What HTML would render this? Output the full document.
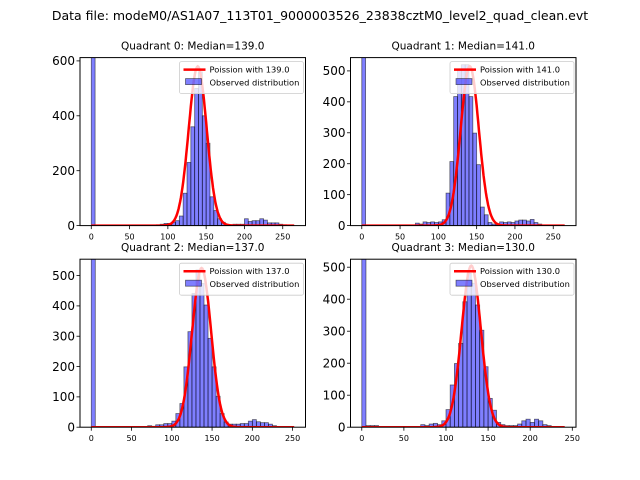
<!DOCTYPE html>
<html><head><meta charset="utf-8"><style>
body{margin:0;background:#fff;}
svg{display:block;font-family:"DejaVu Sans","Liberation Sans",sans-serif;}
</style></head><body>
<svg id="fig" width="640" height="480" viewBox="0 0 640 480" xmlns="http://www.w3.org/2000/svg">
<rect width="640" height="480" fill="#fff"/>
<text x="320" y="20" font-size="12.5" text-anchor="middle">Data file: modeM0/AS1A07_113T01_9000003526_23838cztM0_level2_quad_clean.evt</text>
</svg>
<script>
// bin width 5, first bin starts at 0
const binStarts = Array.from({length:53},(_, i)=>i*5);
const medians = [139.0, 141.0, 137.0, 130.0];
const peakHeights = [580, 515, 525, 505];
const counts0 = [700,0,0,0,0,0,0,0,0,0, 2,2,0,2,0,0,0,3,5,8, 8,12,18,35,118,230,360,500,560,400, 300,105,55,25,12,5,3,5,5,5, 25,15,18,18,25,20,10,10,10,5,3,0,0];
const counts1 = [700,0,0,0,0,0,0,0,0,0, 0,0,0,0,8,5,12,10,12,10, 12,19,105,207,417,503,520,520,417,299, 197,60,35,10,5,3,12,10,12,10, 15,18,18,15,20,10,5,0,0,0,0,0,0];
const counts2 = [700,0,0,0,0,0,0,0,0,0, 0,0,0,0,5,3,8,8,12,12, 20,45,78,199,315,441,519,474,403,293, 199,102,45,17,10,10,10,12,12,20, 25,18,15,15,10,5,0,0,0,0,0,0,0];
const counts3 = [700,5,5,5,0,0,0,0,0,0, 0,0,0,0,8,5,10,12,8,20, 55,132,199,262,392,481,450,382,303,189, 90,53,15,8,5,5,5,10,20,25, 15,25,20,8,5,0,0,0,0,0,0,0,0];
const allCounts = [counts0, counts1, counts2, counts3];
const yTicks0 = [0,200,400,600];
const yTicks1 = [0,100,200,300,400,500];
const yTicksList = [yTicks0, yTicks1, yTicks1, yTicks1];
const xTicks = [0,50,100,150,200,250];
const yMaxes = [612, 543, 554, 525];
const xMaxes = [265, 265, 252, 241];

const NS="http://www.w3.org/2000/svg";
const svg=document.getElementById('fig');
function mk(tag, attrs, parent){const e=document.createElementNS(NS,tag);for(const k in attrs)e.setAttribute(k,attrs[k]);(parent||svg).appendChild(e);return e;}
const panels=[{x:80,y:57.6},{x:350.5,y:57.6},{x:80,y:259.2},{x:350.5,y:259.2}];
const W=225.5,H=168;
panels.forEach((p,q)=>{
  const g=mk('g',{});
  
  
  const xmax=xMaxes[q], xmin=-0.05*xmax/0.9;
  const sx=v=>p.x+(v-xmin)/(xmax+ (0.05*xmax/0.9) - xmin)*W;
  const sy=v=>p.y+H-v/yMaxes[q]*H;
  const clipId='clip'+q;
  const cp=mk('clipPath',{id:clipId},g);
  mk('rect',{x:p.x,y:p.y,width:W,height:H},cp);
  const bars=mk('g',{'clip-path':'url(#'+clipId+')'},g);
  allCounts[q].forEach((c,i)=>{
    if(c<=0) return;
    const x0=sx(binStarts[i]), x1=sx(binStarts[i]+5);
    const r=mk('rect',{x:x0,y:sy(c),width:x1-x0,height:sy(0)-sy(c),fill:'rgba(0,0,255,0.5)',stroke:'rgba(0,0,0,0.55)','stroke-width':0.8},bars);
    
    
  });
  const lam=medians[q], sig=Math.sqrt(lam);
  let d='';
  for(let v=0; v<=xmax; v+=1){
    const y=peakHeights[q]*Math.exp(-0.5*((v-lam)/sig)**2);
    d+=(v===0?'M':'L')+sx(v).toFixed(1)+','+sy(y).toFixed(1);
  }
  const line=mk('path',{d:d,fill:'none',stroke:'#ff0000','stroke-width':2.5},bars);
  
  
  const frame=mk('rect',{x:p.x,y:p.y,width:W,height:H,fill:'none',stroke:'#000','stroke-width':1},g);
  
  
  yTicksList[q].forEach(t=>{
    mk('line',{x1:p.x-3.5,x2:p.x,y1:sy(t),y2:sy(t),stroke:'#000','stroke-width':0.8},g);
    const tx=mk('text',{x:p.x-5,y:sy(t)+4.3,'font-size':12,'text-anchor':'end'},g);
    tx.textContent=t;
    
    
  });
  xTicks.forEach(t=>{
    mk('line',{x1:sx(t),x2:sx(t),y1:p.y+H,y2:p.y+H+3.5,stroke:'#000','stroke-width':0.8},g);
    const tx=mk('text',{x:sx(t),y:p.y+H+14,'font-size':8,'text-anchor':'middle'},g);
    tx.textContent=t;
    
    
  });
  const title=mk('text',{x:p.x+W/2,y:p.y-8,'font-size':10.5,'text-anchor':'middle'},g);
  title.textContent='Quadrant '+q+': Median='+medians[q].toFixed(1);
  
  
  const lg=mk('g',{},g);
  
  
  const lx=p.x+W-126, ly=p.y+4;
  mk('rect',{x:lx,y:ly,width:124,height:32,rx:2,fill:'rgba(255,255,255,0.8)',stroke:'#ccc','stroke-width':0.8},lg);
  mk('line',{x1:lx+4,x2:lx+26,y1:ly+8,y2:ly+8,stroke:'#f00','stroke-width':2.5},lg);
  mk('rect',{x:lx+6,y:ly+17,width:16,height:6,fill:'rgba(0,0,255,0.5)',stroke:'rgba(0,0,0,0.55)','stroke-width':0.8},lg);
  const t1=mk('text',{x:lx+30,y:ly+11,'font-size':8.3},lg);
  t1.textContent='Poission with '+medians[q].toFixed(1);
  
  
  const t2=mk('text',{x:lx+30,y:ly+24,'font-size':8.3},lg);
  t2.textContent='Observed distribution';
  
  
});
</script>
</body></html>
